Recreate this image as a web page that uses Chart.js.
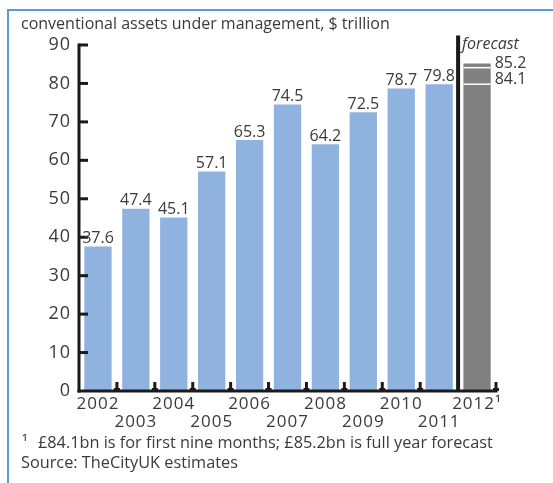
<!DOCTYPE html>
<html>
<head>
<meta charset="utf-8">
<script src="https://cdn.jsdelivr.net/npm/chart.js@4.4.1/dist/chart.umd.min.js"></script>
<style>
  html, body { margin:0; padding:0; background:#fff; }
  #wrap { position:relative; width:553px; height:483px; overflow:hidden; font-family:"Open Sans", sans-serif; color:#3a3a3a; }
  #frame { position:absolute; left:7px; top:9px; width:560px; height:490px; border-left:2px solid #5b9bd5; border-top:2px solid #5b9bd5; }
  #title { position:absolute; left:21px; top:12px; font-size:16px; }
  #note { position:absolute; left:22px; top:431px; font-size:16.3px; }
  #note .sup { display:inline-block; width:16px; }
  #source { position:absolute; left:21px; top:451px; font-size:16.3px; }
  canvas { position:absolute; left:0; top:0; }
</style>
</head>
<body>
<div id="wrap">
  <div id="frame"></div>
  <canvas id="chart" width="553" height="483"></canvas>
  <div id="title">conventional assets under management, $ trillion</div>
  <div id="note"><span class="sup">¹</span>£84.1bn is for first nine months; £85.2bn is full year forecast</div>
  <div id="source">Source: TheCityUK estimates</div>
</div>
<script>
// data
const years = ['2002','2003','2004','2005','2006','2007','2008','2009','2010','2011','2012¹'];
const assets = [37.6, 47.4, 45.1, 57.1, 65.3, 74.5, 64.2, 72.5, 78.7, 79.8, null];
const forecastFull = 85.2;   // full year forecast
const forecastNine = 84.1;   // first nine months
const yTicks = [0, 10, 20, 30, 40, 50, 60, 70, 80, 90];

const forecastBar = years.map((y, i) => i === years.length - 1 ? forecastFull : null);
// white divider lines inside the forecast bar: previous year level and nine-month figure
const forecastMarks = [assets[assets.length - 2], forecastNine];

// two-row year labels (even years on top row, odd years below)
const xLabels = years.map((y, i) => i % 2 === 0 ? [y, ''] : ['', y]);

const INK = '#3a3a3a';
const FONT = '"Open Sans", sans-serif';

// axis numbers in the reference are a bit wider than Open Sans
const spacingPlugin = {
  id: 'spacingPlugin',
  beforeDraw(chart){ chart.ctx.letterSpacing = '1px'; },
  beforeDatasetsDraw(chart){ chart.ctx.letterSpacing = '0px'; }
};

const axesPlugin = {
  id: 'axesPlugin',
  afterDatasetsDraw(chart){
    const ctx = chart.ctx;
    const xs = chart.scales.x, ys = chart.scales.y;
    const y0 = ys.getPixelForValue(0);
    const left = xs.left, right = xs.right;
    const step = (right - left) / years.length;
    ctx.save();
    ctx.letterSpacing = '0px';

    // white dividers in forecast bar
    const meta = chart.getDatasetMeta(1);
    const fb = meta.data[years.length - 1];
    ctx.strokeStyle = '#fff';
    ctx.lineWidth = 1.5;
    forecastMarks.forEach(v => {
      const py = ys.getPixelForValue(v);
      ctx.beginPath(); ctx.moveTo(fb.x - fb.width/2, py); ctx.lineTo(fb.x + fb.width/2, py); ctx.stroke();
    });

    ctx.strokeStyle = '#1a1a1a';
    ctx.lineCap = 'butt';
    // y axis
    ctx.lineWidth = 3;
    ctx.beginPath(); ctx.moveTo(left, ys.getPixelForValue(90) - 1.5); ctx.lineTo(left, y0 + 1.5); ctx.stroke();
    yTicks.forEach(v => {
      if(v === 0) return;
      const py = ys.getPixelForValue(v);
      ctx.beginPath(); ctx.moveTo(left, py); ctx.lineTo(left + 9, py); ctx.stroke();
    });
    // x axis
    ctx.beginPath(); ctx.moveTo(left - 1.5, y0); ctx.lineTo(right + 1.5, y0); ctx.stroke();
    for(let i = 1; i <= years.length; i++){
      if(i === years.length - 1) continue;
      const px = left + step * i;
      ctx.beginPath(); ctx.moveTo(px, y0); ctx.lineTo(px, y0 - 9); ctx.stroke();
      ctx.beginPath(); ctx.moveTo(px - 3, y0 - 1.5); ctx.lineTo(px + 3, y0 - 1.5); ctx.stroke();
    }
    // forecast separator
    const sx = left + step * (years.length - 1);
    ctx.lineWidth = 4;
    ctx.beginPath(); ctx.moveTo(sx, ys.getPixelForValue(92.5)); ctx.lineTo(sx, y0); ctx.stroke();

    // value labels
    ctx.fillStyle = INK;
    ctx.font = '16px ' + FONT;
    ctx.textAlign = 'center';
    ctx.textBaseline = 'bottom';
    const m0 = chart.getDatasetMeta(0);
    assets.forEach((v, i) => {
      if(v === null) return;
      const b = m0.data[i];
      ctx.fillText(v.toFixed(1), b.x, b.y);
    });
    ctx.textAlign = 'left';
    ctx.textBaseline = 'middle';
    ctx.fillText(forecastFull.toFixed(1), fb.x + fb.width/2 + 4, ys.getPixelForValue(forecastFull));
    ctx.fillText(forecastNine.toFixed(1), fb.x + fb.width/2 + 4, ys.getPixelForValue(forecastFull) + 16);
    ctx.font = 'italic 16px ' + FONT;
    ctx.fillText('forecast', sx + 4, ys.getPixelForValue(90) - 1);
    ctx.restore();
  }
};

new Chart(document.getElementById('chart'), {
  type: 'bar',
  data: {
    labels: xLabels,
    datasets: [
      { label: 'assets', data: assets, backgroundColor: '#8fb2de', grouped: false,
        barPercentage: 0.72, categoryPercentage: 1 },
      { label: 'forecast', data: forecastBar, backgroundColor: '#808080', grouped: false,
        barPercentage: 0.72, categoryPercentage: 1 }
    ]
  },
  options: {
    responsive: false,
    animation: false,
    layout: { padding: { left: 0, right: 57, top: 45, bottom: 0 } },
    plugins: { legend: { display: false }, tooltip: { enabled: false } },
    scales: {
      x: {
        grid: { display: false, drawTicks: false, tickLength: 0 }, border: { display: false },
        ticks: { color: INK, font: { family: FONT, size: 17, lineHeight: 1.05 }, maxRotation: 0, autoSkip: false, padding: 4 },
        afterFit(scale){ scale.height = 92; }
      },
      y: {
        min: 0, max: 90,
        grid: { display: false, drawTicks: false, tickLength: 0 }, border: { display: false },
        ticks: { stepSize: 10, color: INK, font: { family: FONT, size: 18 }, padding: 8 },
        afterFit(scale){ scale.width = 79; }
      }
    }
  },
  plugins: [spacingPlugin, axesPlugin]
});
</script>
</body>
</html>
